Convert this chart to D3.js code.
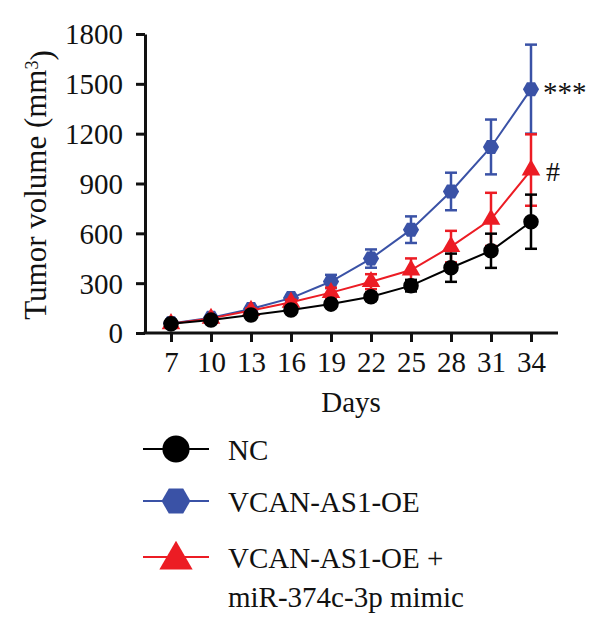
<!DOCTYPE html>
<html>
<head>
<meta charset="utf-8">
<script src="https://cdn.jsdelivr.net/npm/d3@7"></script>
<style>
  body { margin: 0; background: #fff; }
  text { font-family: "Liberation Serif", "DejaVu Serif", serif; fill: #111; }
</style>
</head>
<body>
<div id="chart"></div>
<script>
// data
var days = [7, 10, 13, 16, 19, 22, 25, 28, 31, 34];
var yTicks = [0, 300, 600, 900, 1200, 1500, 1800];

var ncMean = [55, 78, 108, 138, 174, 218, 285, 393, 495, 670];
var ncErr  = [8, 10, 12, 15, 20, 25, 35, 85, 103, 163];

var oeMean = [58, 92, 145, 210, 310, 448, 622, 852, 1120, 1468];
var oeErr  = [8, 12, 15, 18, 40, 55, 80, 113, 165, 268];

var mixMean = [55, 88, 135, 185, 243, 309, 379, 520, 684, 981];
var mixErr  = [8, 10, 12, 15, 30, 45, 70, 95, 160, 215];

var seriesNames = ["NC", "VCAN-AS1-OE", "VCAN-AS1-OE +"];
var colors = ["#000000", "#3a52a6", "#ec1c24"];

var svg = d3.select("#chart").append("svg")
  .attr("width", 600)
  .attr("height", 636);

var x = d3.scaleLinear().domain([7, 34]).range([171, 531]);
var y = d3.scaleLinear().domain([0, 1800]).range([333, 34]);

// y axis
var yAxis = svg.append("g")
  .attr("transform", "translate(145,0)")
  .call(d3.axisLeft(y).tickValues(yTicks).tickFormat(d3.format("d"))
    .tickSize(9).tickSizeOuter(0).tickPadding(13));
yAxis.select(".domain").attr("stroke", "#111").attr("stroke-width", 3);
yAxis.selectAll(".tick line").attr("stroke", "#111").attr("stroke-width", 3);
yAxis.selectAll(".tick text").style("font-size", "29px").attr("dy", "0.34em");

// x axis
var xAxis = svg.append("g")
  .attr("transform", "translate(0,333)")
  .call(d3.axisBottom(x).tickValues(days).tickSize(9).tickSizeOuter(0));
xAxis.select(".domain").attr("d", "M143.5,0H558").attr("stroke", "#111").attr("stroke-width", 3);
xAxis.selectAll(".tick line").attr("stroke", "#111").attr("stroke-width", 3);
xAxis.selectAll(".tick text").style("font-size", "29px").attr("y", 39).attr("dy", 0);

svg.append("text")
  .attr("x", 351).attr("y", 412)
  .attr("text-anchor", "middle")
  .style("font-size", "29px")
  .text("Days");

var ylab = svg.append("text")
  .attr("transform", "translate(46,185) rotate(-90)")
  .attr("text-anchor", "middle")
  .style("font-size", "31px");
ylab.append("tspan").text("Tumor volume (mm");
ylab.append("tspan").attr("dy", "-0.45em").style("font-size", "18px").text("3");
ylab.append("tspan").attr("dy", "0.45em").text(")");

function toRows(mean, err) {
  return days.map(function(d, i) { return { day: d, v: mean[i], e: err[i] }; });
}

var line = d3.line()
  .x(function(d) { return x(d.day); })
  .y(function(d) { return y(d.v); });

var hexagon = {
  draw: function(ctx, size) {
    var r = Math.sqrt(size / 2.598);
    for (var k = 0; k < 6; k++) {
      var a = Math.PI / 3 * k;
      var px = r * Math.cos(a), py = r * Math.sin(a);
      if (k === 0) ctx.moveTo(px, py); else ctx.lineTo(px, py);
    }
    ctx.closePath();
  }
};

function drawSeries(rows, color, shape) {
  var g = svg.append("g");
  // error bars
  rows.forEach(function(d) {
    var cx = x(d.day);
    g.append("line")
      .attr("x1", cx).attr("x2", cx)
      .attr("y1", y(d.v + d.e)).attr("y2", y(d.v - d.e))
      .attr("stroke", color).attr("stroke-width", 2.5);
    [d.v + d.e, d.v - d.e].forEach(function(val) {
      g.append("line")
        .attr("x1", cx - 6).attr("x2", cx + 6)
        .attr("y1", y(val)).attr("y2", y(val))
        .attr("stroke", color).attr("stroke-width", 2.5);
    });
  });
  g.append("path")
    .datum(rows)
    .attr("fill", "none")
    .attr("stroke", color)
    .attr("stroke-width", 2)
    .attr("d", line);
  g.selectAll(".pt")
    .data(rows)
    .enter().append("path")
    .attr("transform", function(d) { return "translate(" + x(d.day) + "," + y(d.v) + ")"; })
    .attr("d", shape)
    .attr("fill", color);
}

var circleSym = d3.symbol().type(d3.symbolCircle).size(190);
var hexSym = d3.symbol().type(hexagon).size(170);
var triSym = d3.symbol().type(d3.symbolTriangle).size(150);

drawSeries(toRows(oeMean, oeErr), colors[1], hexSym);
drawSeries(toRows(mixMean, mixErr), colors[2], triSym);
drawSeries(toRows(ncMean, ncErr), colors[0], circleSym);

// significance marks
svg.append("text").attr("x", 543).attr("y", 102)
  .style("font-size", "29px").text("***");
svg.append("text").attr("x", 546).attr("y", 181)
  .style("font-size", "28px").text("#");

// legend
var legendY = [449, 501, 557];
var legendShapes = [
  d3.symbol().type(d3.symbolCircle).size(580),
  d3.symbol().type(hexagon).size(540),
  d3.symbol().type(d3.symbolTriangle).size(480)
];
seriesNames.forEach(function(name, i) {
  var g = svg.append("g").attr("transform", "translate(0," + legendY[i] + ")");
  g.append("line").attr("x1", 143).attr("x2", 209)
    .attr("stroke", colors[i]).attr("stroke-width", 2);
  g.append("path").attr("transform", "translate(176," + (i === 2 ? 3 : 0) + ")")
    .attr("d", legendShapes[i]).attr("fill", colors[i]);
  g.append("text").attr("x", 228).attr("y", 11)
    .style("font-size", "29px").text(name);
});
svg.append("text").attr("x", 228).attr("y", 607)
  .style("font-size", "29px").text("miR-374c-3p mimic");
</script>
</body>
</html>
